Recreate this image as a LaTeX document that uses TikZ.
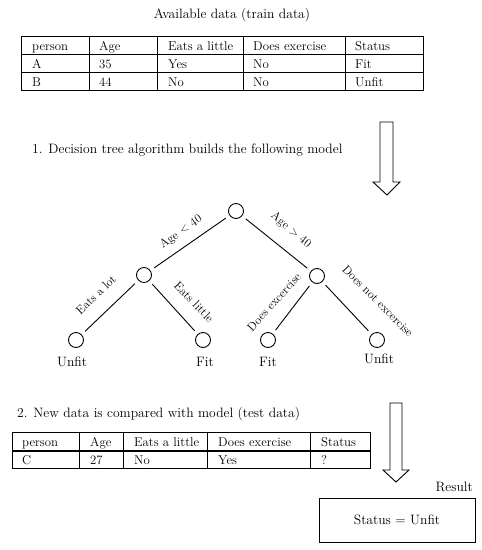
\documentclass[tikz,border=0pt]{standalone}
\usepackage{tikz}
\usetikzlibrary{positioning}

\tikzset{
  cell/.style={anchor=base west, inner sep=0pt, font=\fontsize{12.8}{15}\selectfont},
  branch/.style={font=\fontsize{12}{14}\selectfont, inner sep=0pt},
  leaflabel/.style={anchor=base, inner sep=0pt},
  bigarrow/.style={draw, line width=0.9pt, fill=white}
}

\begin{document}
\begin{tikzpicture}[x=1pt, y=-1pt, font=\fontsize{13.6}{16}\selectfont]
  \useasboundingbox (0,0) rectangle (482,550);

  %Train data
  \node[anchor=base, inner sep=0pt] (traintitle) at (232,18) {Available data (train data)};
  \begin{scope}[line width=0.9pt]
    \draw (21,36) rectangle (423,90);
    \draw (21,54) -- (423,54);
    \draw (21,72) -- (423,72);
    \draw (89,36) -- (89,90);
    \draw (157,36) -- (157,90);
    \draw (243,36) -- (243,90);
    \draw (345,36) -- (345,90);
  \end{scope}
  \begin{scope}[every node/.style={cell}]
    \node (tperson) at (32,50.5) {person};
    \node (tage) at (99,50.5) {Age};
    \node (teats) at (168,50.5) {Eats a little};
    \node (tdoes) at (253,50.5) {Does exercise};
    \node (tstatus) at (355,50.5) {Status};
    \node (a1) at (32,68) {A};
    \node (a2) at (99,68) {35};
    \node (a3) at (168,68) {Yes};
    \node (a4) at (253,68) {No};
    \node (a5) at (355,68) {Fit};
    \node (b1) at (32,86) {B};
    \node (b2) at (99,86) {44};
    \node (b3) at (168,86) {No};
    \node (b4) at (253,86) {No};
    \node (b5) at (355,86) {Unfit};
  \end{scope}

  %Step 1
  \node[anchor=base west, inner sep=0pt] (step1) at (32,153) {1. Decision tree algorithm builds the following model};
  \draw[bigarrow] (380,122) -- (393,122) -- (393,182) -- (400,182) -- (387,195)
    -- (373,182) -- (380,182) -- cycle;

  %Tree
  \begin{scope}[every node/.style={circle, draw, line width=0.9pt, minimum size=15pt, inner sep=0pt}]
    \node (root) at (236,211) {};
    \node (young) at (144,275) {};
    \node (old) at (317,276) {};
    \node (lot) at (76,340) {};
    \node (little) at (203,340) {};
    \node (exer) at (268,340) {};
    \node (noexer) at (377,340) {};
  \end{scope}

  \begin{scope}[every edge/.style={draw, line width=0.9pt, shorten >=4.5pt, shorten <=4.5pt}]
    \path (root) edge (young);
    \path (root) edge (old);
    \path (young) edge (lot);
    \path (young) edge (little);
    \path (old) edge (exer);
    \path (old) edge (noexer);
  \end{scope}

  \begin{scope}[every node/.style={branch}]
    \node[rotate=35] (lyoung) at (181,232) {Age $<$ 40};
    \node[rotate=-40] (lold) at (291,230) {Age $>$ 40};
    \node[rotate=44] (llot) at (96,295) {Eats a lot};
    \node[rotate=-46] (llittle) at (194,302) {Eats little};
    \node[rotate=48] (lexer) at (274,302) {Does excercise};
    \node[rotate=-45] (lnoexer) at (378,301) {Does not excercise};
  \end{scope}

  \begin{scope}[every node/.style={leaflabel}]
    \node (flot) at (72,366) {Unfit};
    \node (flittle) at (205,366) {Fit};
    \node (fexer) at (268,366) {Fit};
    \node (fnoexer) at (379,363) {Unfit};
  \end{scope}

  %Step 2
  \node[anchor=base west, inner sep=0pt] (step2) at (17,417) {2. New data is compared with model (test data)};
  \begin{scope}[line width=0.9pt]
    \draw (12,432) rectangle (370,468);
    \draw[line width=1.6pt] (12,451) -- (370,451);
    \draw (79,432) -- (79,468);
    \draw (123,432) -- (123,468);
    \draw (207,432) -- (207,468);
    \draw (310,432) -- (310,468);
  \end{scope}
  \begin{scope}[every node/.style={cell}]
    \node (sperson) at (22,446.5) {person};
    \node (sage) at (90,446.5) {Age};
    \node (seats) at (134,446.5) {Eats a little};
    \node (sdoes) at (218,446.5) {Does exercise};
    \node (sstatus) at (321,446.5) {Status};
    \node (c1) at (22,464) {C};
    \node (c2) at (90,464) {27};
    \node (c3) at (134,464) {No};
    \node (c4) at (218,464) {Yes};
    \node (c5) at (321,464) {?};
  \end{scope}
  \draw[bigarrow] (390,403) -- (402,403) -- (402,470) -- (409,470) -- (396,482)
    -- (383,470) -- (390,470) -- cycle;

  %Result
  \node[anchor=base east, inner sep=0pt] (reslabel) at (473,491) {Result};
  \node[draw, line width=0.9pt, minimum width=156pt, minimum height=44pt] (result) at (397,520) {Status = Unfit};
\end{tikzpicture}
\end{document}
